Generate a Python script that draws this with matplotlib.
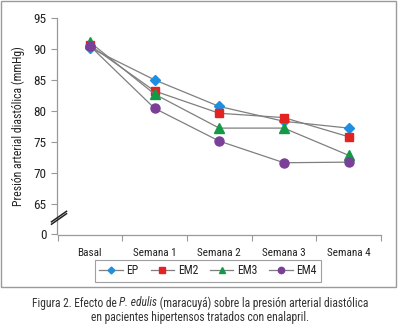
import matplotlib
matplotlib.use("Agg")
import matplotlib.pyplot as plt
from matplotlib.patches import Rectangle
from matplotlib.lines import Line2D

plt.rcParams['font.family'] = ['Roboto Condensed', 'Liberation Sans', 'DejaVu Sans']

categories = ["Basal", "Semana 1", "Semana 2", "Semana 3", "Semana 4"]
ep  = [90.2, 85.0, 80.7, 78.3, 77.2]
em2 = [90.6, 83.2, 79.6, 78.9, 75.8]
em3 = [91.1, 82.7, 77.2, 77.2, 72.8]
em4 = [90.5, 80.4, 75.1, 71.6, 71.7]
series_names = ["EP", "EM2", "EM3", "EM4"]
ytick_vals = [60, 65, 70, 75, 80, 85, 90, 95]
ytick_labels = ["0", "65", "70", "75", "80", "85", "90", "95"]

fig = plt.figure(figsize=(4.0, 3.31), dpi=100)
W, H = 400, 331
# outer frame
fig.patches.append(Rectangle((1/W, 1 - 287/H), 395/W, 286/H, transform=fig.transFigure,
                             fill=False, edgecolor='#9a9a9a', linewidth=1.0))

ax = fig.add_axes([57.5/W, 1 - 234.5/H, (381 - 57.5)/W, (234.5 - 18)/H])
x = list(range(len(categories)))
styles = [
    (ep, 'D', '#1e8fe0', 5),
    (em2, 's', '#e32222', 6),
    (em3, '^', '#129a47', 6.5),
    (em4, 'o', '#7a3f98', 6.5),
]
handles = []
for (vals, mk, col, ms), name in zip(styles, series_names):
    h, = ax.plot(x, vals, color='#7f7f7f', linewidth=0.9, marker=mk, markersize=ms,
                 markerfacecolor=col, markeredgecolor=col, label=name, zorder=3)
    handles.append(h)

ax.set_xlim(-0.5, len(categories) - 0.5)
ax.set_ylim(60, 95)
ax.set_yticks(ytick_vals)
ax.set_yticklabels(ytick_labels, fontsize=9.5, color='#222222')
ax.set_xticks(x)
ax.set_xticklabels(categories, fontsize=8.0, color='#222222')
ax.set_xticks([i - 0.5 for i in range(len(categories) + 1)], minor=True)
ax.tick_params(axis='x', which='major', length=0, pad=10)
ax.tick_params(axis='x', which='minor', length=4, color='#999999', width=0.8)
ax.tick_params(axis='y', length=4, color='#999999', width=0.8, pad=4)
for s in ['top', 'right']:
    ax.spines[s].set_visible(False)
for s in ['left', 'bottom']:
    ax.spines[s].set_color('#999999')
    ax.spines[s].set_linewidth(0.9)

ax.set_ylabel("Presión arterial diastólica (mmHg)", fontsize=8.5, labelpad=6, color='#222222')

# break mark
for dy in (-1.2, 1.2):
    fig.add_artist(Line2D([51.5/W, 66.5/W], [1 - (223 + dy)/H, 1 - (212.5 + dy)/H],
                          transform=fig.transFigure, color='#222222', linewidth=1.1))

leg = fig.legend(handles=handles, labels=series_names, loc='center',
                 bbox_to_anchor=(208/W, 1 - 271/H), ncol=4, fontsize=8.5,
                 frameon=True, fancybox=False, edgecolor='#888888',
                 handlelength=2.0, columnspacing=1.0, handletextpad=0.3,
                 borderpad=0.35, borderaxespad=0, markerscale=0.7)
leg.get_frame().set_linewidth(0.8)
for t in leg.get_texts():
    t.set_color('#222222')

cap_color = '#333333'
cap_fs = 8.3
# first caption line composed of three parts (italic species name)
parts = [("Figura 2. Efecto de ", 'normal'), ("P. edulis", 'italic'),
         (" (maracuyá) sobre la presión arterial diastólica", 'normal')]
fig.canvas.draw()
renderer = fig.canvas.get_renderer()
texts = []
widths = []
for s, st in parts:
    t = fig.text(0, 1 - 303/H, s, ha='left', va='center', fontsize=cap_fs,
                 style=st, color=cap_color)
    texts.append(t)
    widths.append(t.get_window_extent(renderer).width)
total = sum(widths)
xpos = 200 - total / 2
for t, w in zip(texts, widths):
    t.set_x(xpos / W)
    xpos += w
fig.text(200/W, 1 - 318/H, "en pacientes hipertensos tratados con enalapril.",
         ha='center', va='center', fontsize=cap_fs, color=cap_color)

fig.savefig("out.png", dpi=100)
